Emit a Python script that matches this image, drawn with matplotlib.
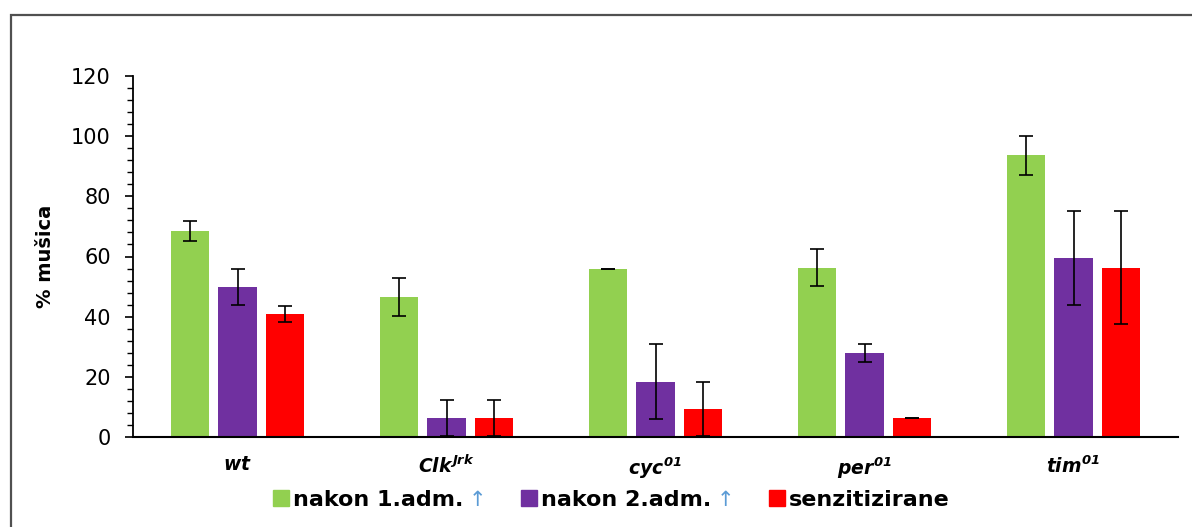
import matplotlib
matplotlib.use("Agg")
import matplotlib.pyplot as plt
import numpy as np
from matplotlib.lines import Line2D
from matplotlib.patches import Rectangle
from matplotlib.ticker import MultipleLocator

plt.rcParams['font.family'] = ['DejaVu Sans']
plt.rcParams['mathtext.fontset'] = 'custom'
plt.rcParams['mathtext.it'] = 'DejaVu Sans:italic:bold'
plt.rcParams['mathtext.rm'] = 'DejaVu Sans:italic:bold'
plt.rcParams['mathtext.bf'] = 'DejaVu Sans:italic:bold'

# ---- data ----
categories = [r'$wt$', r'$Clk^{Jrk}$', r'$cyc^{01}$', r'$per^{01}$', r'$tim^{01}$']
series_names = ['nakon 1.adm.', 'nakon 2.adm.', 'senzitizirane']
arrow_flags = [True, True, False]
first_adm = [68.5, 46.6, 56.0, 56.3, 93.6]
first_err = [3.2, 6.4, 0.0, 6.2, 6.4]
second_adm = [50.0, 6.2, 18.4, 28.0, 59.5]
second_err = [6.0, 6.0, 12.5, 3.0, 15.5]
sensitized = [40.8, 6.2, 9.3, 6.2, 56.3]
sensitized_err = [2.6, 6.0, 9.0, 0.0, 18.8]
colors = ['#92D050', '#7030A0', '#FF0000']
ylabel = '% mušica'

values = [first_adm, second_adm, sensitized]
errors = [first_err, second_err, sensitized_err]

W, H = 1192, 527
fig = plt.figure(figsize=(W / 100, H / 100), dpi=100)
ax = fig.add_axes([133 / W, 1 - 437 / H, (1178 - 133) / W, (437 - 76) / H])

x = np.arange(len(categories))
bw = 0.182
step = 0.226
for i, (vals, errs, c) in enumerate(zip(values, errors, colors)):
    ax.bar(x + (i - 1) * step, vals, width=bw, color=c, edgecolor='none',
           yerr=errs, capsize=4.7,
           error_kw=dict(ecolor='black', elinewidth=1.2, capthick=1.2), zorder=2)

ax.set_xlim(-0.5, len(categories) - 0.5)
ax.set_ylim(0, 120)
ax.yaxis.set_major_locator(MultipleLocator(20))
ax.yaxis.set_minor_locator(MultipleLocator(4))
ax.set_xticks(x)
ax.set_xticklabels(categories, fontsize=13.5)
ax.tick_params(axis='x', length=0, pad=13)
ax.tick_params(axis='y', which='major', length=6, width=1.2, pad=10, labelsize=15,
               direction='out', colors='black')
ax.tick_params(axis='y', which='minor', length=4.5, width=1.0, direction='out')
for s in ['top', 'right']:
    ax.spines[s].set_visible(False)
ax.spines['left'].set_linewidth(1.3)
ax.spines['bottom'].set_linewidth(1.5)

ax.set_ylabel(ylabel, fontsize=14, fontweight='bold')
ax.yaxis.set_label_coords(-0.075, 0.5)

handles = [Line2D([], [], marker='s', linestyle='none', markersize=11,
                  markerfacecolor=c, markeredgecolor=c) for c in colors]
leg = fig.legend(handles, series_names, loc='center', ncol=3, frameon=False,
                 bbox_to_anchor=(611.5 / W, 1 - 500 / H), bbox_transform=fig.transFigure,
                 handlelength=0.7, handletextpad=0.2, columnspacing=2.6,
                 prop=dict(size=16, weight='bold'))

# outer frame
fig.patches.append(Rectangle((11 / W, -0.1), 1.2, (1 - 15 / H) + 0.1,
                             transform=fig.transFigure, fill=False,
                             edgecolor='#505050', linewidth=1.6))

fig.canvas.draw()
renderer = fig.canvas.get_renderer()
for t, flag in zip(leg.get_texts(), arrow_flags):
    if flag:
        bb = t.get_window_extent(renderer)
        fig.text((bb.x1 + 5) / W, (bb.y0 + bb.y1) / 2 / H, '↑', color='#5B9BD5',
                 fontsize=15, ha='left', va='center')

fig.savefig('out.png', dpi=100)
